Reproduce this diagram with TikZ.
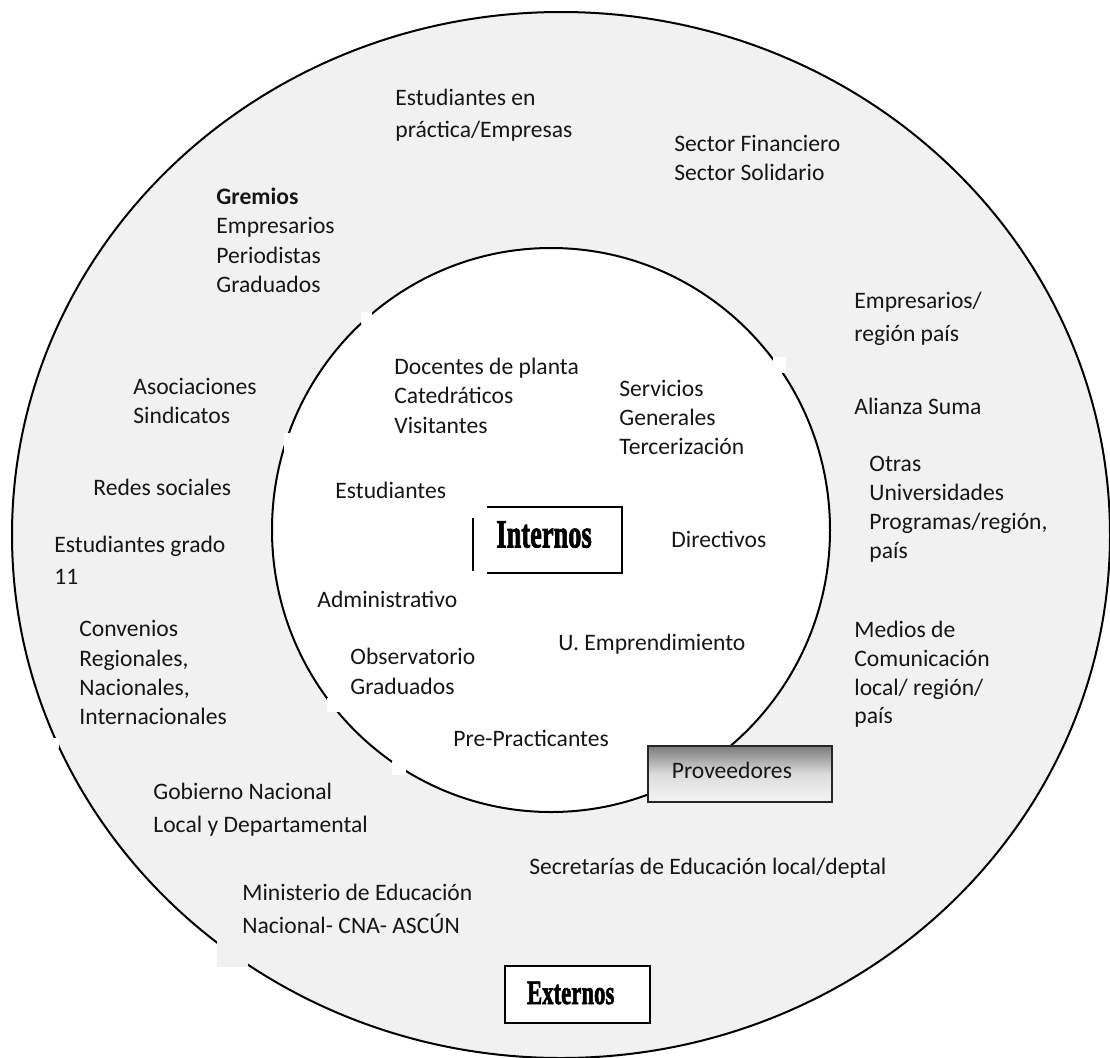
\documentclass[tikz,border=0pt]{standalone}
\usepackage{fontspec}
\setmainfont{Carlito}
\newfontfamily\headfont{Liberation Serif}[BoldFeatures={FakeBold=2.2}]
\usepackage{graphicx}
\usetikzlibrary{calc}
\definecolor{ring}{RGB}{241,241,241}
\definecolor{ink}{RGB}{22,22,22}
\begin{document}
\begin{tikzpicture}[x=0.5pt,y=-0.5pt,
  lbl/.style={anchor=base west, inner sep=0pt, text=ink, font=\fontsize{11.8}{14}\selectfont},
  outline/.style={line width=1pt, draw=black},
  patchw/.style={fill=white},
  patchg/.style={fill=ring},
  headbox/.style={anchor=north west, inner ysep=0pt, align=left, text=black},
  provbox/.style={anchor=north west, draw=black!85, line width=0.9pt, inner ysep=0pt, inner xsep=12pt,
     text width=68pt, align=left, text height=16.5pt, text depth=11.5pt, text=ink,
     font=\fontsize{11.8}{14}\selectfont,
     top color=black!52, bottom color=white!96!black, middle color=black!14}
]
\useasboundingbox (0,0) rectangle (1110,1057);
\fill[white] (0,0) rectangle (1110,1057);

% rings
\path[outline, fill=ring] (561,535) ellipse [x radius=274.5pt, y radius=261.5pt];
\path[outline, fill=white] (551,530) ellipse [x radius=139.5pt, y radius=141pt];

% small breaks in the outlines
\fill[patchw] (361,312) rectangle (372,324);
\fill[patchw] (773,357) rectangle (786,373);
\fill[patchw] (284,433) rectangle (297,451);
\fill[patchw] (327,698) rectangle (345,712);
\fill[patchw] (392,761) rectangle (406,775);
\fill[patchw] (47,738) rectangle (59,748);
\fill[patchg] (217,935) rectangle (248,967);

% outer ring texts
\node[lbl] (estEmpA) at (395,105) {Estudiantes en};
\node[lbl] (estEmpB) at (395,137) {práctica/Empresas};
\node[lbl] (secA) at (674,151) {Sector Financiero};
\node[lbl] (secB) at (674,180) {Sector Solidario};
\node[lbl] (gremA) at (216,204) {\textbf{Gremios}};
\node[lbl] (gremB) at (216,233) {Empresarios};
\node[lbl] (gremC) at (216,263) {Periodistas};
\node[lbl] (gremD) at (216,292) {Graduados};
\node[lbl] (empA) at (854,308) {Empresarios/};
\node[lbl] (empB) at (854,341) {región país};
\node[lbl] (asoA) at (133,394) {Asociaciones};
\node[lbl] (asoB) at (133,423) {Sindicatos};
\node[lbl] (ali) at (854,414) {Alianza Suma};
\node[lbl] (otrA) at (869,471) {Otras};
\node[lbl] (otrB) at (869,500) {Universidades};
\node[lbl] (otrC) at (869,529) {Programas/región,};
\node[lbl] (otrD) at (869,558) {país};
\node[lbl] (redes) at (93,495) {Redes sociales};
\node[lbl] (egA) at (54,552) {Estudiantes grado};
\node[lbl] (egB) at (54,584) {11};
\node[lbl] (convA) at (79,636) {Convenios};
\node[lbl] (convB) at (79,666) {Regionales,};
\node[lbl] (convC) at (79,695) {Nacionales,};
\node[lbl] (convD) at (79,724) {Internacionales};
\node[lbl] (medA) at (854,637) {Medios de};
\node[lbl] (medB) at (854,666) {Comunicación};
\node[lbl] (medC) at (854,695) {local/ región/};
\node[lbl] (medD) at (854,723) {país};
\node[lbl] (gobA) at (153,799) {Gobierno Nacional};
\node[lbl] (gobB) at (153,832) {Local y Departamental};
\node[lbl] (secr) at (529,874) {Secretarías de Educación local/deptal};
\node[lbl] (minA) at (242,900) {Ministerio de Educación};
\node[lbl] (minB) at (242,933) {Nacional- CNA- ASCÚN};

% inner circle texts
\node[lbl] (docA) at (394,374) {Docentes de planta};
\node[lbl] (docB) at (394,403) {Catedráticos};
\node[lbl] (docC) at (394,433) {Visitantes};
\node[lbl] (serA) at (619,396) {Servicios};
\node[lbl] (serB) at (619,425) {Generales};
\node[lbl] (serC) at (619,454) {Tercerización};
\node[lbl] (estu) at (335,498) {Estudiantes};
\node[lbl] (dir) at (671,547) {Directivos};
\node[lbl] (adm) at (317,607) {Administrativo};
\node[lbl] (uemp) at (558,650) {U. Emprendimiento};
\node[lbl] (obsA) at (350,664) {Observatorio};
\node[lbl] (obsB) at (350,694) {Graduados};
\node[lbl] (pre) at (453,746) {Pre-Practicantes};

% Internos box (left side broken)
\node[headbox, inner xsep=4.5pt, text width=58pt, text height=20pt, text depth=12.5pt,
      font=\headfont\bfseries\fontsize{20}{22}\selectfont] (int) at (487,507)
      {\scalebox{0.66}[1]{Internos}};
\draw[line width=0.9pt] (int.north west) -- (int.north east) -- (int.south east) -- (int.south west);
\draw[line width=1pt] ([xshift=-7pt,yshift=-5.5pt]int.north west) -- ([xshift=-7pt,yshift=1pt]int.south west);

% Proveedores box
\node[provbox] (prov) at (647,745) {Proveedores};

% Externos box
\node[headbox, draw=black, line width=1pt, fill=white, inner xsep=11pt, text width=50.5pt,
      text height=19pt, text depth=9.5pt,
      font=\headfont\bfseries\fontsize{17}{19}\selectfont] (ext) at (504,965)
      {\scalebox{0.67}[1]{Externos}};
\end{tikzpicture}
\end{document}
